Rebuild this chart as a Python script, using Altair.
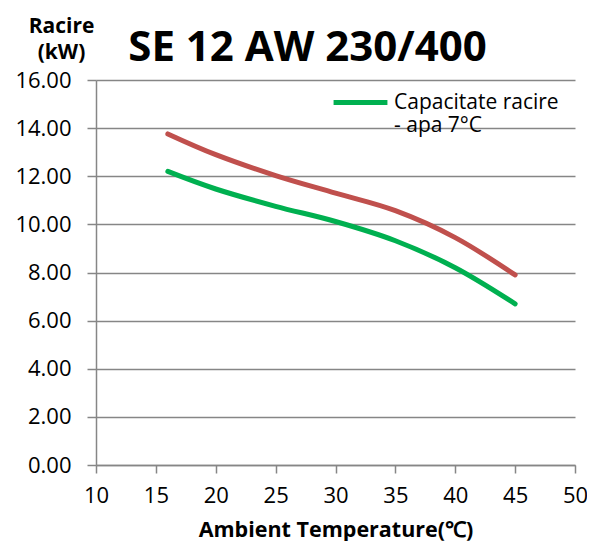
import altair as alt
import pandas as pd

temps = [16, 20, 25, 30, 35, 40, 45]
red_vals = [13.76, 12.9, 12.03, 11.3, 10.57, 9.45, 7.9]
green_vals = [12.2, 11.47, 10.75, 10.12, 9.32, 8.2, 6.7]
green_name = "Capacitate racire - apa 7°C"
red_name = "Capacitate racire - apa 18°C"

rows = []
for t, v in zip(temps, red_vals):
    rows.append({"t": t, "v": v, "s": red_name})
for t, v in zip(temps, green_vals):
    rows.append({"t": t, "v": v, "s": green_name})
df = pd.DataFrame(rows)

FONT = "Open Sans"
GRAY = "#868686"

chart = alt.Chart(df).mark_line(strokeWidth=5, interpolate="cardinal", strokeCap="round").encode(
    x=alt.X("t:Q", scale=alt.Scale(domain=[10, 50], nice=False),
            axis=alt.Axis(values=[10, 15, 20, 25, 30, 35, 40, 45, 50], grid=False,
                          title="Ambient Temperature(℃)", titleFontSize=21.5, titleFontWeight="bold",
                          titleFont=FONT, titleColor="black", titlePadding=13,
                          labelFontSize=22, labelFont=FONT, labelColor="black", labelPadding=12,
                          tickSize=8, tickColor=GRAY, domainColor=GRAY, domainWidth=1.5,
                          tickWidth=1.5, labelFlush=False)),
    y=alt.Y("v:Q", scale=alt.Scale(domain=[0, 16], nice=False),
            axis=alt.Axis(values=[0, 2, 4, 6, 8, 10, 12, 14, 16], format=".2f",
                          gridColor=GRAY, gridWidth=1.5,
                          title=["Racire", "(kW)"], titleAngle=0, titleFontSize=21,
                          titleFontWeight="bold", titleFont=FONT, titleColor="black",
                          titleX=-35, titleY=-48, titleAlign="center", titleBaseline="alphabetic",
                          titleLineHeight=26,
                          labelFontSize=22, labelFont=FONT, labelColor="black", labelPadding=16,
                          tickSize=9, tickColor=GRAY, domainColor=GRAY, domainWidth=1.5,
                          tickWidth=1.5)),
    color=alt.Color("s:N", scale=alt.Scale(domain=[red_name, green_name], range=["#C0504D", "#00B050"]),
                    legend=alt.Legend(values=[green_name], title=None, orient="none",
                                      legendX=235, legendY=-7, symbolType="stroke",
                                      symbolStrokeWidth=5, symbolSize=2900,
                                      labelFont=FONT, labelFontSize=21, labelColor="black",
                                      labelExpr="['Capacitate racire', '- apa 7°C']",
                                      labelLimit=300, symbolOffset=0, labelOffset=4)),
).properties(
    width=479, height=385,
    title=alt.TitleParams("SE 12 AW 230/400", fontSize=42, font=FONT, fontWeight="bold",
                          color="black", anchor="middle", frame="group", dx=-28, dy=63, offset=8),
    autosize=alt.AutoSizeParams(type="none"),
    padding={"left": 88, "top": 72, "right": 12, "bottom": 76},
).configure_view(stroke=None)

chart.save("out.html", embed_options={"renderer": "svg", "actions": False})
